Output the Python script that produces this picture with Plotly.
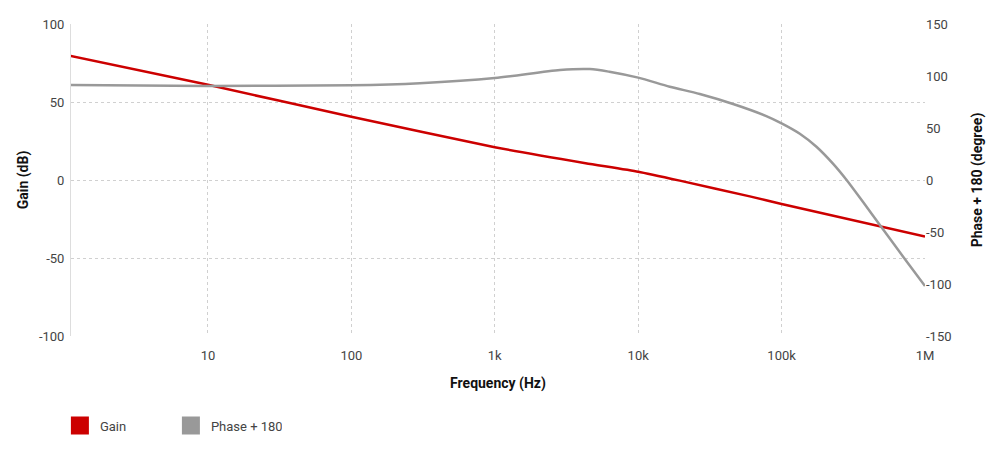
import plotly.graph_objects as go

# ---- data ----
gain_freq = [1.1, 10, 100, 1000, 4300, 10000, 19500, 60000, 100000, 1000000]
gain_db = [79.5, 61, 40.5, 21, 10.8, 5.3, -0.4, -10.5, -15.4, -36.3]

phase_freq = [1.1, 10, 100, 300, 1000, 2850, 4600, 6300, 10000, 16600, 26900, 45900,
              78200, 100000, 134000, 175000, 229000, 284000, 369000, 483000, 702000, 1000000]
phase_deg = [91.3, 90.5, 91, 93, 98, 105.8, 106.7, 104.1, 98.4, 89.7, 82.7, 73.1,
             61.5, 54.5, 44.5, 32, 15.5, 0, -21, -43, -73.5, -102]

x_tickvals = [10, 100, 1000, 10000, 100000, 1000000]
x_ticktext = ["10", "100", "1k", "10k", "100k", "1M"]
y_tickvals = [-100, -50, 0, 50, 100]
y_ticktext = ["-100", "-50", "0", "50", "100"]
y2_tickvals = [-150, -100, -50, 0, 50, 100, 150]
y2_ticktext = ["-150", "-100", "-50", "0", "50", "100", "150"]

GAIN_COLOR = "#cc0000"
PHASE_COLOR = "#999999"
FONT = "Roboto"

fig = go.Figure()
fig.add_trace(go.Scatter(x=gain_freq, y=gain_db, mode="lines", name="Gain",
                         line=dict(color=GAIN_COLOR, width=2.5, shape="spline", smoothing=0.5),
                         showlegend=False, yaxis="y"))
fig.add_trace(go.Scatter(x=phase_freq, y=phase_deg, mode="lines", name="Phase + 180",
                         line=dict(color=PHASE_COLOR, width=2.5, shape="spline", smoothing=0.8),
                         showlegend=False, yaxis="y2"))
# legend entries (square swatches)
fig.add_trace(go.Scatter(x=[None], y=[None], mode="markers", name="Gain",
                         marker=dict(symbol="square", size=16, color=GAIN_COLOR,
                                     line=dict(color=GAIN_COLOR, width=2))))
fig.add_trace(go.Scatter(x=[None], y=[None], mode="markers", name="Phase + 180",
                         marker=dict(symbol="square", size=16, color=PHASE_COLOR,
                                     line=dict(color=PHASE_COLOR, width=2))))

fig.update_layout(
    width=984, height=441,
    margin=dict(l=63, r=67, t=16, b=113),
    paper_bgcolor="white", plot_bgcolor="white",
    font=dict(family=FONT, size=13, color="#444"),
    xaxis=dict(type="log", range=[0.045, 6], tickvals=x_tickvals, ticktext=x_ticktext,
               showgrid=True, gridcolor="#d0d0d0", griddash="dot", gridwidth=1,
               zeroline=False, showline=False, ticks="", automargin=False,
               ticklabelstandoff=10,
               tickfont=dict(size=13, color="#444"),
               title=dict(text="<b>Frequency (Hz)</b>", font=dict(size=14, color="#111"), standoff=16)),
    yaxis=dict(range=[-100, 100], tickvals=y_tickvals, ticktext=y_ticktext,
               showgrid=True, gridcolor="#d0d0d0", griddash="dot", gridwidth=1,
               zeroline=False, showline=True, linecolor="#dddddd", linewidth=1, ticks="",
               automargin=False, ticklabelstandoff=3,
               tickfont=dict(size=13, color="#444"),
               title=dict(text="<b>Gain (dB)</b>", font=dict(size=14, color="#111"), standoff=6)),
    yaxis2=dict(range=[-150, 150], tickvals=y2_tickvals, ticktext=y2_ticktext,
                overlaying="y", side="right", showgrid=False, zeroline=False, showline=False,
                ticks="", automargin=False, ticklabelstandoff=0,
                tickfont=dict(size=13, color="#444"),
                title=dict(text="<b>Phase + 180 (degree)</b>", font=dict(size=14, color="#111"), standoff=21)),
    legend=dict(orientation="h", x=-0.013, xanchor="left",
                yref="container", y=0.087, yanchor="top",
                entrywidth=66, entrywidthmode="pixels",
                font=dict(size=13, color="#444"), itemclick=False),
)

fig.write_html("out.html")
